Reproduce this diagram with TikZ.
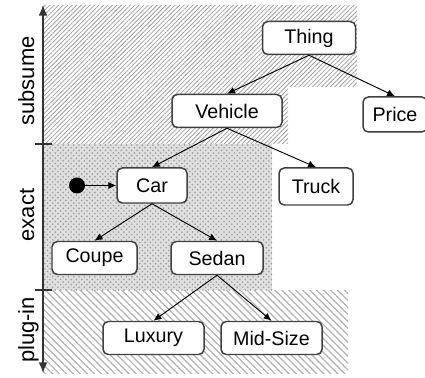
\documentclass[tikz,border=0pt]{standalone}
\usepackage{fontspec}
\setmainfont{Liberation Sans}
\usetikzlibrary{patterns,patterns.meta,arrows.meta}

\tikzset{
  concept/.style={draw=black!75, line width=0.85pt, rounded corners=3pt, fill=white,
    minimum height=0.66cm, inner sep=0pt, font=\fontsize{11.2}{13}\selectfont},
  link/.style={-{Latex[length=4.5pt,width=4pt]}, line width=0.55pt},
  level/.style={rotate=90, anchor=base, font=\fontsize{12.5}{14}\selectfont},
}

\begin{document}
\begin{tikzpicture}
\useasboundingbox (0,0) rectangle (8.5,7.54);

% Match regions
\fill[pattern={Lines[angle=45,distance=1.8pt,line width=0.45pt]}, pattern color=gray!75]
  (0.86,7.44) -- (7.14,7.44) -- (7.14,5.80) -- (5.76,5.80) -- (5.76,4.66) -- (0.86,4.66) -- cycle;
\fill[gray!25] (0.86,4.66) rectangle (5.44,1.74);
\fill[pattern=crosshatch dots, pattern color=gray!80] (0.86,4.66) rectangle (5.44,1.74);
\fill[pattern={Lines[angle=-45,distance=2.8pt,line width=0.7pt]}, pattern color=gray!60]
  (0.86,1.74) rectangle (6.96,0.08);

% Axis with ticks
\coordinate (top) at (0.86,7.44);
\coordinate (bottom) at (0.86,0.08);
\draw[line width=0.85pt, black!80, {Latex[length=6pt,width=5pt]}-{Latex[length=6pt,width=5pt]}] (bottom) -- (top);
\draw[line width=0.85pt, black!80] (0.70,4.66) -- (1.04,4.66);
\draw[line width=0.85pt, black!80] (0.70,1.74) -- (1.04,1.74);

\node[level] (subsume) at (0.68,5.92) {subsume};
\node[level] (exact) at (0.68,3.24) {exact};
\node[level] (plugin) at (0.68,0.94) {plug-in};

% Concepts
\node[concept, minimum width=1.86cm] (thing) at (6.18,6.78) {Thing};
\node[concept, minimum width=2.20cm] (vehicle) at (4.54,5.32) {Vehicle};
\node[concept, minimum width=1.28cm, minimum height=0.70cm] (price) at (7.90,5.25) {Price};
\node[concept, minimum width=1.40cm, minimum height=0.70cm] (car) at (3.04,3.83) {Car};
\node[concept, minimum width=1.48cm, minimum height=0.74cm] (truck) at (6.32,3.81) {Truck};
\node[concept, minimum width=1.70cm] (coupe) at (1.89,2.38) {Coupe};
\node[concept, minimum width=1.84cm] (sedan) at (4.34,2.38) {Sedan};
\node[concept, minimum width=2.02cm] (luxury) at (3.07,0.78) {Luxury};
\node[concept, minimum width=2.02cm] (midsize) at (5.43,0.78) {Mid-Size};

% Query start
\node[circle, fill=black, minimum size=0.32cm, inner sep=0pt] (start) at (1.54,3.83) {};
\draw[link] (start) -- (car);

% Subclass links
\draw[link] (thing.south) -- (vehicle.north);
\draw[link] (thing.south) -- (price.north);
\draw[link] (vehicle.south) -- (car.north);
\draw[link] (vehicle.south) -- (truck.north);
\draw[link] (car.south) -- (coupe.north);
\draw[link] (car.south) -- (sedan.north);
\draw[link] (sedan.south) -- (luxury.north);
\draw[link] (sedan.south) -- (midsize.north);
\end{tikzpicture}
\end{document}
